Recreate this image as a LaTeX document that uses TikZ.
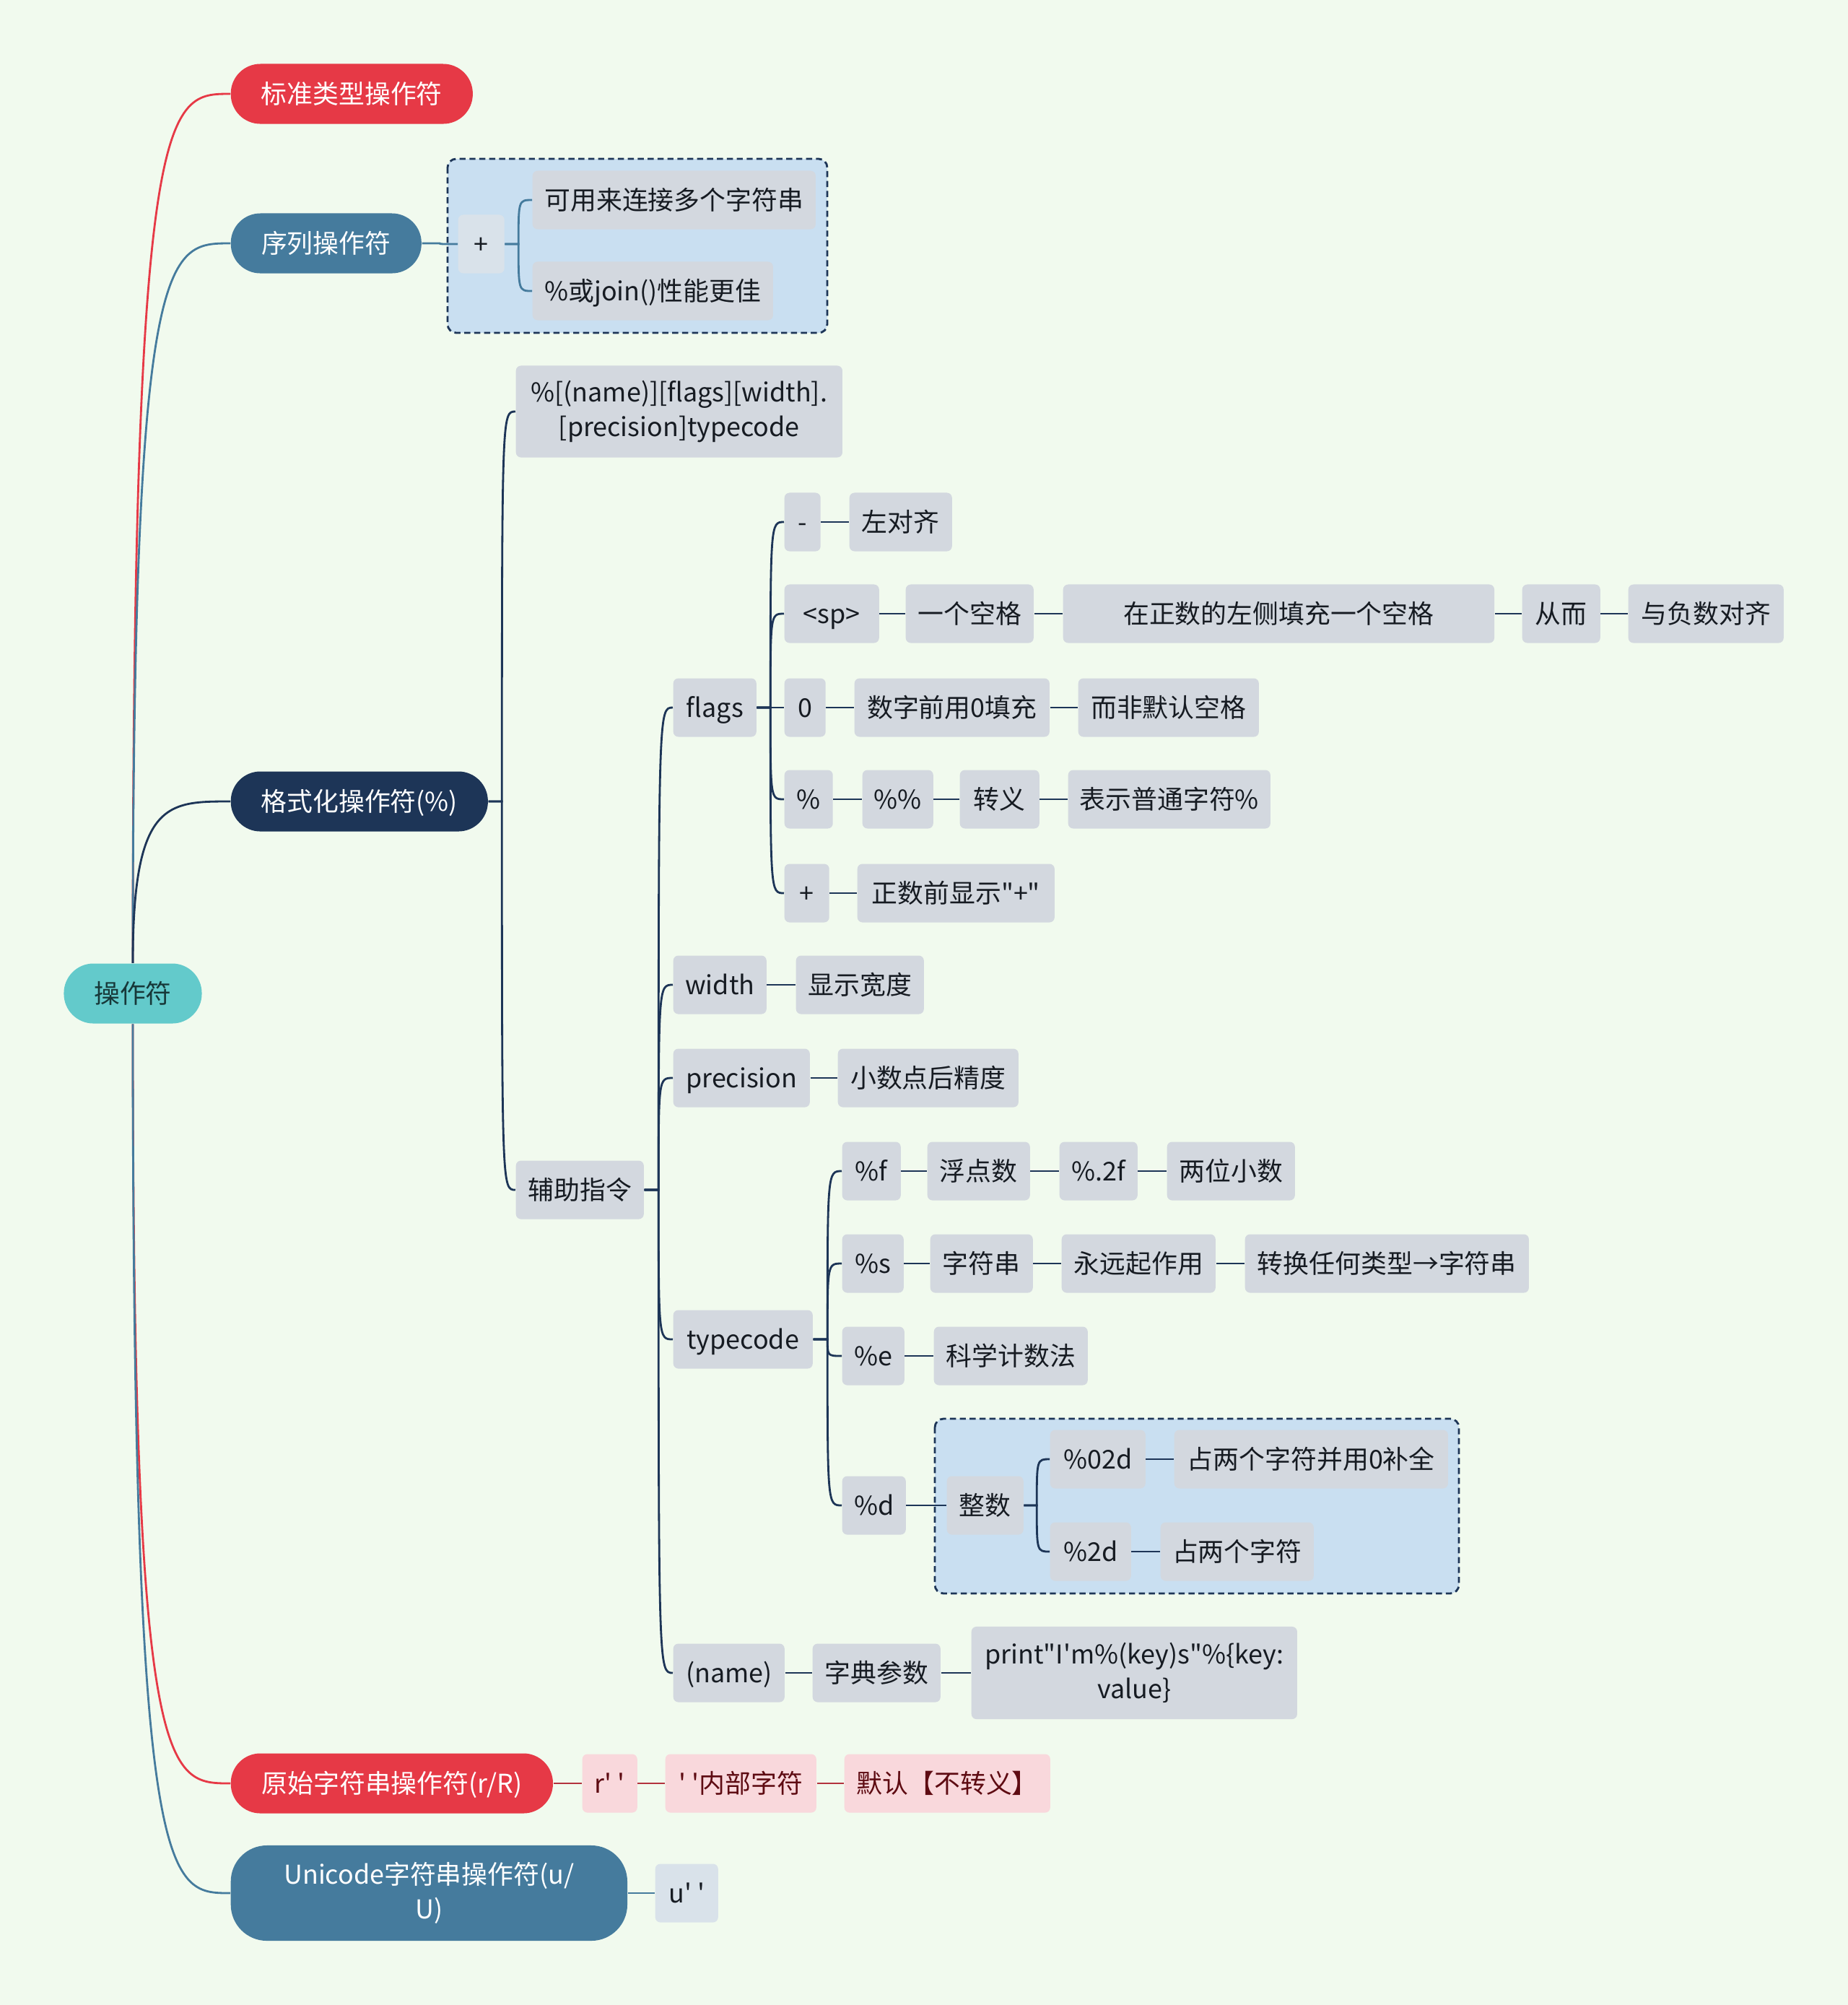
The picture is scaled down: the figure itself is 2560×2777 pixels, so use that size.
\documentclass[tikz,border=0pt]{standalone}
\usepackage{fontspec}
\setmainfont{Noto Sans CJK SC}[Ligatures=TeXOff]
\usepackage{tikz}
\usetikzlibrary{calc}
\definecolor{honey}{HTML}{F1FAEE}
\definecolor{navy}{HTML}{1D3557}
\definecolor{steel}{HTML}{457B9D}
\definecolor{coral}{HTML}{E63946}
\definecolor{aqua}{HTML}{63CACB}
\definecolor{ink}{HTML}{161B22}
\definecolor{rootink}{HTML}{173839}
\definecolor{chip}{HTML}{D3D8DF}
\definecolor{chiplight}{HTML}{D9E2EA}
\definecolor{zone}{HTML}{C9DFF1}
\definecolor{blush}{HTML}{F9D8DC}
\definecolor{wine}{HTML}{5E0B12}
\definecolor{wineline}{HTML}{B3323D}
\tikzset{
  pill/.style={fill=#1,text=white,rounded corners=0.41cm,minimum height=0.83cm,inner xsep=6pt,anchor=west,align=center,text height=9pt,text depth=1.3pt},
  box/.style={fill=chip,text=ink,rounded corners=2pt,minimum height=0.81cm,inner xsep=3pt,anchor=west,align=center,text height=9pt,text depth=1.3pt},
  multi/.style={text height=,text depth=},
  pinkbox/.style={box,fill=blush,text=wine},
  zonebox/.style={draw=navy,dash pattern=on 2.4pt off 1.5pt,fill=zone,rounded corners=0.12cm,line width=0.8pt},
  link/.style={line width=0.8pt,draw=#1},
}
% parent -> child, elbow curve through the mid point
\newcommand{\branch}[3][navy]{%
  \draw[link=#1] (#2.east) -- ($(#2.east)!.5!(#2.east -| #3.west)$) coordinate (j)
    .. controls (j |- #3.west) and (j |- #3.west) .. (#3.west);}
% root -> main topic
\newcommand{\rootlink}[3]{%
  \draw[link=#1] (root.#2) .. controls (root.#2 |- #3.west)
    and ($(root.#2 |- #3.west)!.35!(#3.west)$) .. (#3.west);}

\begin{document}
\begin{tikzpicture}[x=0.01cm,y=-0.01cm,font=\fontsize{10.2pt}{13.6pt}\selectfont]
  \fill[honey] (0,0) rectangle (2560,2777);
  \draw[zonebox] (620,220) rectangle (1146,461);
  \draw[zonebox] (1295,1965) rectangle (2021,2207);

  % root and main topics
  \node[pill=aqua,text=rootink,anchor=center,minimum width=1.91cm] (root) at (184,1376) {操作符};
  \node[pill=coral,minimum width=3.35cm] (std) at (319,130) {标准类型操作符};
  \node[pill=steel,minimum width=2.64cm] (seq) at (319,337) {序列操作符};
  \node[pill=navy,minimum width=3.56cm] (fmtop) at (319,1110) {格式化操作符(\%)};
  \node[pill=coral,minimum width=4.46cm] (raw) at (319,2470) {原始字符串操作符(r/R)};
  \node[pill=steel,multi,minimum width=5.49cm,minimum height=1.32cm,rounded corners=0.5cm] (uni) at (319,2622) {Unicode字符串操作符(u/\\U)};

  % sequence
  \node[box,fill=chiplight,minimum width=0.64cm] (plus) at (634,338) {+};
  \node[box,minimum width=3.92cm] (concat) at (737,277) {可用来连接多个字符串};
  \node[box,minimum width=3.33cm] (joinperf) at (737,403) {\%或join()性能更佳};

  % format
  \node[box,multi,minimum width=4.52cm,minimum height=1.27cm] (spec) at (714,570) {\%[(name)][flags][width].\\{}[precision]typecode};
  \node[box,minimum width=1.77cm] (aux) at (714,1648) {辅助指令};
  \node[box,minimum width=1.15cm] (flags) at (932,980) {flags};
  \node[box,minimum width=1.29cm] (width) at (932,1364) {width};
  \node[box,minimum width=1.89cm] (prec) at (932,1493) {precision};
  \node[box,minimum width=1.93cm] (tcode) at (932,1855) {typecode};
  \node[box,minimum width=1.54cm] (name) at (932,2317) {(name)};

  % flags
  \node[box,minimum width=0.50cm] (fminus) at (1086,723) {-};
  \node[box,minimum width=1.42cm] (fleft) at (1176,723) {左对齐};
  \node[box,minimum width=1.31cm] (fsp) at (1086,850) {<sp>};
  \node[box,minimum width=1.77cm] (fsp1) at (1254,850) {一个空格};
  \node[box,minimum width=5.97cm] (fsp2) at (1472,850) {在正数的左侧填充一个空格};
  \node[box,minimum width=1.08cm] (fsp3) at (2108,850) {从而};
  \node[box,minimum width=2.15cm] (fsp4) at (2255,850) {与负数对齐};
  \node[box,minimum width=0.57cm] (fzero) at (1086,980) {0};
  \node[box,minimum width=2.70cm] (fzero1) at (1183,980) {数字前用0填充};
  \node[box,minimum width=2.50cm] (fzero2) at (1493,980) {而非默认空格};
  \node[box,minimum width=0.67cm] (fpct) at (1086,1107) {\%};
  \node[box,minimum width=0.98cm] (fpct1) at (1194,1107) {\%\%};
  \node[box,minimum width=1.10cm] (fpct2) at (1329,1107) {转义};
  \node[box,minimum width=2.80cm] (fpct3) at (1479,1107) {表示普通字符\%};
  \node[box,minimum width=0.62cm] (fplus) at (1086,1237) {+};
  \node[box,minimum width=2.73cm] (fplus1) at (1187,1237) {正数前显示"+"};

  \node[box,minimum width=1.77cm] (widthv) at (1102,1364) {显示宽度};
  \node[box,minimum width=2.50cm] (precv) at (1160,1493) {小数点后精度};

  % typecode
  \node[box,minimum width=0.81cm] (tf) at (1166,1622) {\%f};
  \node[box,minimum width=1.42cm] (tf1) at (1284,1622) {浮点数};
  \node[box,minimum width=1.08cm] (tf2) at (1467,1622) {\%.2f};
  \node[box,minimum width=1.77cm] (tf3) at (1616,1622) {两位小数};
  \node[box,minimum width=0.85cm] (ts) at (1166,1750) {\%s};
  \node[box,minimum width=1.42cm] (ts1) at (1288,1750) {字符串};
  \node[box,minimum width=2.13cm] (ts2) at (1470,1750) {永远起作用};
  \node[box,minimum width=3.93cm] (ts3) at (1724,1750) {转换任何类型→字符串};
  \node[box,minimum width=0.86cm] (te) at (1166,1878) {\%e};
  \node[box,minimum width=2.13cm] (te1) at (1293,1878) {科学计数法};
  \node[box,minimum width=0.88cm] (td) at (1166,2085) {\%d};
  \node[box,minimum width=1.06cm] (tdint) at (1311,2085) {整数};
  \node[box,minimum width=1.32cm] (td02) at (1454,2021) {\%02d};
  \node[box,minimum width=3.79cm] (td02v) at (1626,2021) {占两个字符并用0补全};
  \node[box,minimum width=1.12cm] (td2) at (1454,2149) {\%2d};
  \node[box,minimum width=2.12cm] (td2v) at (1607,2149) {占两个字符};

  % name
  \node[box,minimum width=1.77cm] (name1) at (1125,2317) {字典参数};
  \node[box,multi,minimum width=4.51cm,minimum height=1.28cm] (name2) at (1345,2317) {print"I'm\%(key)s"\%\{key:\\value\}};

  % raw and unicode
  \node[pinkbox,minimum width=0.76cm] (raw1) at (806,2470) {r' '};
  \node[pinkbox,minimum width=2.09cm] (raw2) at (921,2470) {' '内部字符};
  \node[pinkbox,minimum width=2.85cm] (raw3) at (1169,2470) {默认【不转义】};
  \node[box,fill=chiplight,minimum width=0.87cm] (uni1) at (907,2622) {u' '};

  % connectors
  \rootlink{coral}{north}{std}
  \rootlink{steel}{north}{seq}
  \rootlink{navy}{north}{fmtop}
  \rootlink{coral}{south}{raw}
  \rootlink{steel}{south}{uni}

  \branch[steel]{seq}{plus}
  \branch[steel]{plus}{concat}
  \branch[steel]{plus}{joinperf}

  \branch{fmtop}{spec}
  \branch{fmtop}{aux}
  \branch{aux}{flags}
  \branch{aux}{width}
  \branch{aux}{prec}
  \branch{aux}{tcode}
  \branch{aux}{name}

  \branch{flags}{fminus}
  \branch{fminus}{fleft}
  \branch{flags}{fsp}
  \branch{fsp}{fsp1}
  \branch{fsp1}{fsp2}
  \branch{fsp2}{fsp3}
  \branch{fsp3}{fsp4}
  \branch{flags}{fzero}
  \branch{fzero}{fzero1}
  \branch{fzero1}{fzero2}
  \branch{flags}{fpct}
  \branch{fpct}{fpct1}
  \branch{fpct1}{fpct2}
  \branch{fpct2}{fpct3}
  \branch{flags}{fplus}
  \branch{fplus}{fplus1}

  \branch{width}{widthv}
  \branch{prec}{precv}

  \branch{tcode}{tf}
  \branch{tf}{tf1}
  \branch{tf1}{tf2}
  \branch{tf2}{tf3}
  \branch{tcode}{ts}
  \branch{ts}{ts1}
  \branch{ts1}{ts2}
  \branch{ts2}{ts3}
  \branch{tcode}{te}
  \branch{te}{te1}
  \branch{tcode}{td}
  \branch{td}{tdint}
  \branch{tdint}{td02}
  \branch{td02}{td02v}
  \branch{tdint}{td2}
  \branch{td2}{td2v}

  \branch{name}{name1}
  \branch{name1}{name2}

  \branch[wineline]{raw}{raw1}
  \branch[wineline]{raw1}{raw2}
  \branch[wineline]{raw2}{raw3}
  \branch[steel]{uni}{uni1}
\end{tikzpicture}
\end{document}
